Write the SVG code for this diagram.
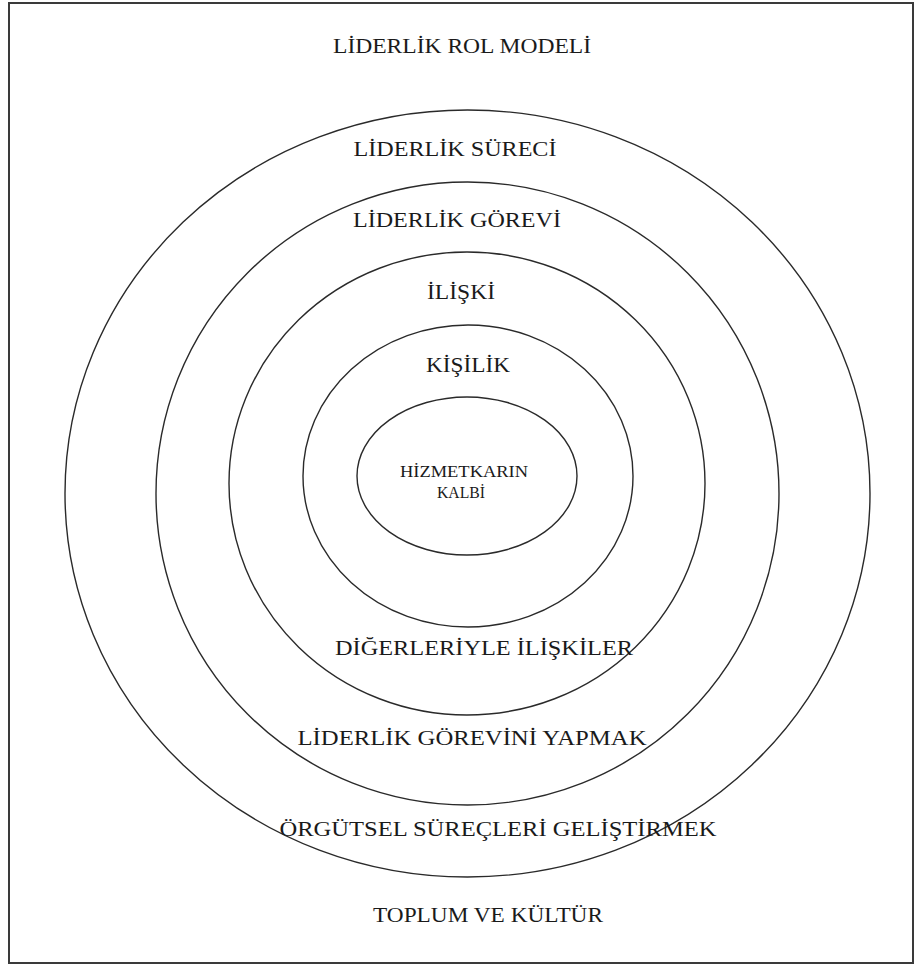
<svg xmlns="http://www.w3.org/2000/svg" width="915" height="968" viewBox="0 0 915 968">
<style>
.ring{fill:none;stroke:#2a2a2a;stroke-width:1.4}
.t{font-family:"Liberation Serif","Times New Roman",serif;fill:#1a1a1a;text-anchor:middle}
</style>
<rect x="0" y="0" width="915" height="968" fill="#fff"/>
<rect x="9" y="3" width="904" height="960" fill="none" stroke="#3a3a3a" stroke-width="2"/>
<g id="rol-modeli"><text class="t" x="462" y="53" font-size="22" textLength="258" lengthAdjust="spacingAndGlyphs">LİDERLİK ROL MODELİ</text></g>
<g id="toplum"><text class="t" x="488" y="922" font-size="22" textLength="230" lengthAdjust="spacingAndGlyphs">TOPLUM VE KÜLTÜR</text></g>
<g id="surec">
<ellipse class="ring" cx="467.5" cy="493.5" rx="402.5" ry="383.5"/>
<text class="t" x="455" y="156" font-size="21" textLength="203" lengthAdjust="spacingAndGlyphs">LİDERLİK SÜRECİ</text>
<text class="t" x="498" y="836" font-size="22" textLength="437" lengthAdjust="spacingAndGlyphs">ÖRGÜTSEL SÜREÇLERİ GELİŞTİRMEK</text>
</g>
<g id="gorev">
<ellipse class="ring" cx="467.5" cy="493.5" rx="311.5" ry="311.5"/>
<text class="t" x="457" y="227" font-size="21" textLength="208" lengthAdjust="spacingAndGlyphs">LİDERLİK GÖREVİ</text>
<text class="t" x="472" y="745" font-size="22" textLength="349" lengthAdjust="spacingAndGlyphs">LİDERLİK GÖREVİNİ YAPMAK</text>
</g>
<g id="iliski">
<ellipse class="ring" cx="467" cy="483.5" rx="238" ry="231.5"/>
<text class="t" x="461" y="299" font-size="21" textLength="68" lengthAdjust="spacingAndGlyphs">İLİŞKİ</text>
<text class="t" x="484" y="655" font-size="22" textLength="298" lengthAdjust="spacingAndGlyphs">DİĞERLERİYLE İLİŞKİLER</text>
</g>
<g id="kisilik">
<ellipse class="ring" cx="468" cy="476" rx="165" ry="151"/>
<text class="t" x="468" y="372" font-size="21" textLength="84" lengthAdjust="spacingAndGlyphs">KİŞİLİK</text>
</g>
<g id="kalp">
<ellipse class="ring" cx="467" cy="476" rx="110" ry="79"/>
<text class="t" x="464" y="477" font-size="16" textLength="128" lengthAdjust="spacingAndGlyphs">HİZMETKARIN</text>
<text class="t" x="461" y="498" font-size="16" textLength="48" lengthAdjust="spacingAndGlyphs">KALBİ</text>
</g>
<g id="connectors"/>
</svg>
